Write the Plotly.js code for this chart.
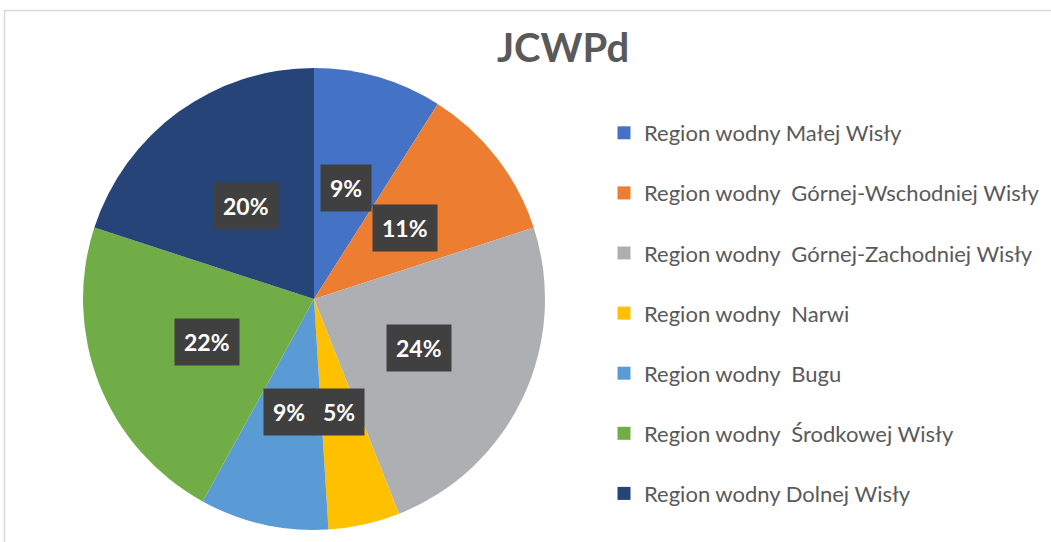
<!DOCTYPE html>
<html>
<head>
<meta charset="utf-8">
<script src="https://cdn.plot.ly/plotly-3.0.1.min.js"></script>
<style>html,body{margin:0;padding:0;background:#fff;}#chart{width:1051px;height:542px;}</style>
</head>
<body>
<div id="chart"></div>
<script>
const categories = [
  'Region wodny Małej Wisły',
  'Region wodny\u00A0 Górnej-Wschodniej Wisły',
  'Region wodny\u00A0 Górnej-Zachodniej Wisły',
  'Region wodny\u00A0 Narwi',
  'Region wodny\u00A0 Bugu',
  'Region wodny\u00A0 Środkowej Wisły',
  'Region wodny Dolnej Wisły'
];
const values = [9, 11, 24, 5, 9, 22, 20];
const colors = ['#4472C4', '#ED7D31', '#AEAFB3', '#FFC000', '#5B9BD5', '#70AD47', '#264478'];
const chartTitle = 'JCWPd';

const W = 1051, H = 542;
const cx = 314, cy = 299, R = 231;

const pie = {
  type: 'pie',
  labels: categories,
  values: values,
  sort: false,
  direction: 'clockwise',
  rotation: 0,
  marker: {colors: colors, line: {width: 0}},
  textinfo: 'none',
  hoverinfo: 'label+percent',
  showlegend: false,
  domain: {x: [(cx - R) / W, (cx + R) / W], y: [(H - cy - R) / H, (H - cy + R) / H]}
};

const legendTraces = categories.map((c, i) => ({
  type: 'scatter', mode: 'markers', x: [null], y: [null],
  name: c, legendgroup: 'g' + i,
  marker: {symbol: 'square', size: 13, color: colors[i]},
  hoverinfo: 'skip', showlegend: true
}));

const total = values.reduce((a, b) => a + b, 0);
let cum = 0;
const annotations = values.map(v => {
  const mid = (cum + v / 2) / total * 2 * Math.PI;
  cum += v;
  const px = cx + 0.5 * R * Math.sin(mid);
  const py = cy - 0.5 * R * Math.cos(mid);
  return {
    xref: 'paper', yref: 'paper', x: px / W, y: (H - py) / H,
    xanchor: 'center', yanchor: 'middle', showarrow: false,
    text: Math.round(v / total * 100) + '%',
    font: {family: 'Lato, sans-serif', size: 23, color: '#ffffff', weight: 'bold'},
    bgcolor: '#404040', borderpad: 9
  };
});

const layout = {
  width: W, height: H,
  margin: {l: 0, r: 0, t: 0, b: 0},
  paper_bgcolor: '#ffffff', plot_bgcolor: '#ffffff',
  title: {text: chartTitle, x: 563 / W, xanchor: 'center', y: 1 - 48 / H, yanchor: 'middle',
          font: {family: 'Lato, sans-serif', size: 40, color: '#595959', weight: 'bold'}},
  xaxis: {visible: false, domain: [0.99, 1]},
  yaxis: {visible: false, domain: [0.99, 1]},
  showlegend: true,
  legend: {x: 604 / W, xanchor: 'left', y: 1 - 112 / H, yanchor: 'top',
           tracegroupgap: 28.5, font: {family: 'Lato, sans-serif', size: 22, color: '#595959'},
           bgcolor: 'rgba(0,0,0,0)'},
  annotations: annotations,
  shapes: [{type: 'rect', xref: 'paper', yref: 'paper', x0: 4.5 / W, x1: 1.05, y0: -0.05, y1: 1 - 10.5 / H,
            line: {color: '#d9d9d9', width: 1.5}, fillcolor: 'rgba(0,0,0,0)', layer: 'below'}]
};

Plotly.newPlot('chart', [pie].concat(legendTraces), layout, {displayModeBar: false, staticPlot: true});
</script>
</body>
</html>
